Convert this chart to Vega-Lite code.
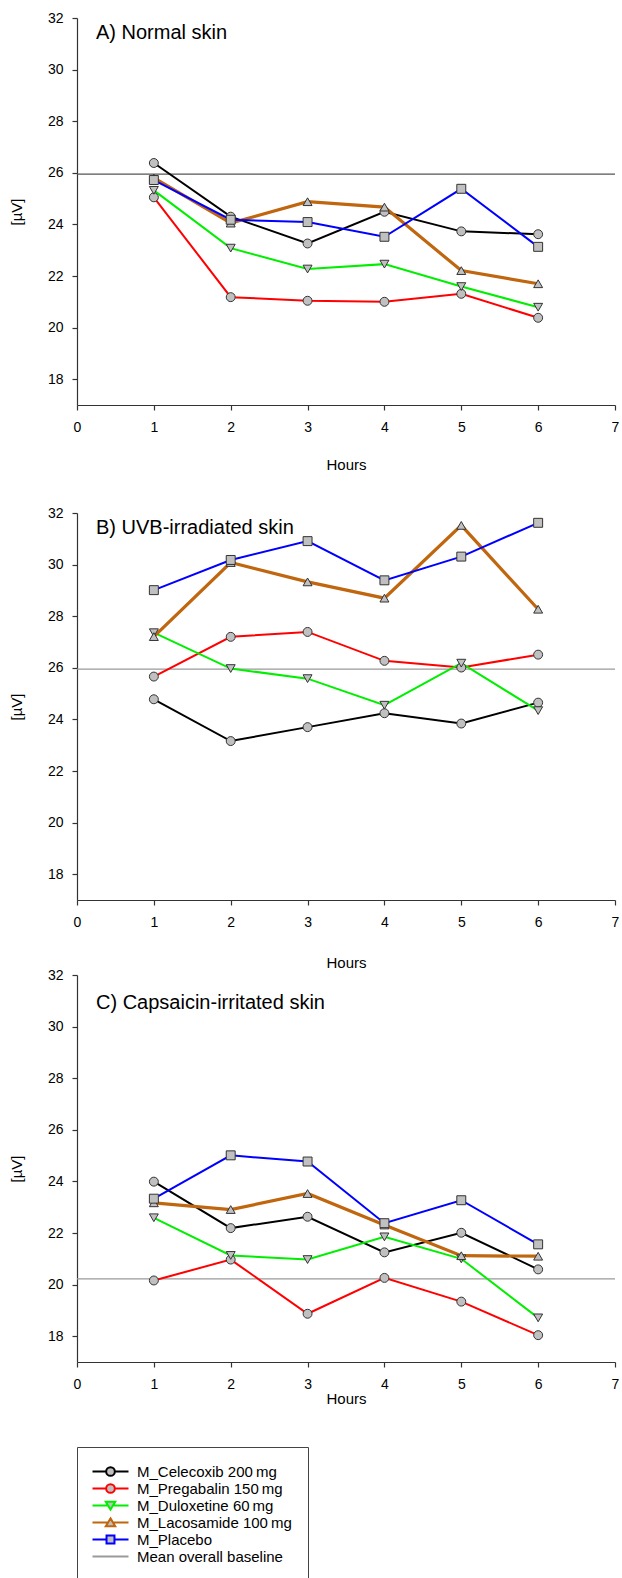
{
"$schema": "https://vega.github.io/schema/vega-lite/v6.json",
"padding": {"left": 9, "top": 11, "right": 5, "bottom": 5},
"spacing": -3,
"config": {
  "view": {"stroke": null},
  "font": "Liberation Sans",
  "axis": {"domainColor": "#333333", "tickColor": "#333333", "domainWidth": 1.2, "tickWidth": 1.2, "tickSize": 5, "labelFontSize": 14, "labelFont": "Liberation Sans", "labelColor": "#000000", "titleFontSize": 15, "titleFont": "Liberation Sans", "titleFontWeight": "normal", "titleColor": "#000000", "grid": false, "labelFlush": false, "labelOverlap": false, "labelBound": false}
},
"datasets": {
  "base": [
    {"panel": "A", "series": "Mean overall baseline", "value": 25.95},
    {"panel": "B", "series": "Mean overall baseline", "value": 25.95},
    {"panel": "C", "series": "Mean overall baseline", "value": 20.22}
  ],
  "pts": [
    {"panel": "A", "series": "M_Celecoxib 200\u2009mg", "hour": 1, "value": 26.38},
    {"panel": "A", "series": "M_Celecoxib 200\u2009mg", "hour": 2, "value": 24.3},
    {"panel": "A", "series": "M_Celecoxib 200\u2009mg", "hour": 3, "value": 23.26},
    {"panel": "A", "series": "M_Celecoxib 200\u2009mg", "hour": 4, "value": 24.49},
    {"panel": "A", "series": "M_Celecoxib 200\u2009mg", "hour": 5, "value": 23.73},
    {"panel": "A", "series": "M_Celecoxib 200\u2009mg", "hour": 6, "value": 23.62},
    {"panel": "A", "series": "M_Pregabalin 150\u2009mg", "hour": 1, "value": 25.05},
    {"panel": "A", "series": "M_Pregabalin 150\u2009mg", "hour": 2, "value": 21.18},
    {"panel": "A", "series": "M_Pregabalin 150\u2009mg", "hour": 3, "value": 21.04},
    {"panel": "A", "series": "M_Pregabalin 150\u2009mg", "hour": 4, "value": 21.0},
    {"panel": "A", "series": "M_Pregabalin 150\u2009mg", "hour": 5, "value": 21.31},
    {"panel": "A", "series": "M_Pregabalin 150\u2009mg", "hour": 6, "value": 20.38},
    {"panel": "A", "series": "M_Duloxetine 60\u2009mg", "hour": 1, "value": 25.32},
    {"panel": "A", "series": "M_Duloxetine 60\u2009mg", "hour": 2, "value": 23.08},
    {"panel": "A", "series": "M_Duloxetine 60\u2009mg", "hour": 3, "value": 22.27},
    {"panel": "A", "series": "M_Duloxetine 60\u2009mg", "hour": 4, "value": 22.46},
    {"panel": "A", "series": "M_Duloxetine 60\u2009mg", "hour": 5, "value": 21.59},
    {"panel": "A", "series": "M_Duloxetine 60\u2009mg", "hour": 6, "value": 20.79},
    {"panel": "A", "series": "M_Lacosamide 100\u2009mg", "hour": 1, "value": 25.8},
    {"panel": "A", "series": "M_Lacosamide 100\u2009mg", "hour": 2, "value": 24.05},
    {"panel": "A", "series": "M_Lacosamide 100\u2009mg", "hour": 3, "value": 24.88},
    {"panel": "A", "series": "M_Lacosamide 100\u2009mg", "hour": 4, "value": 24.67},
    {"panel": "A", "series": "M_Lacosamide 100\u2009mg", "hour": 5, "value": 22.21},
    {"panel": "A", "series": "M_Lacosamide 100\u2009mg", "hour": 6, "value": 21.7},
    {"panel": "A", "series": "M_Placebo", "hour": 1, "value": 25.72},
    {"panel": "A", "series": "M_Placebo", "hour": 2, "value": 24.18},
    {"panel": "A", "series": "M_Placebo", "hour": 3, "value": 24.09},
    {"panel": "A", "series": "M_Placebo", "hour": 4, "value": 23.52},
    {"panel": "A", "series": "M_Placebo", "hour": 5, "value": 25.38},
    {"panel": "A", "series": "M_Placebo", "hour": 6, "value": 23.13},
    {"panel": "B", "series": "M_Celecoxib 200\u2009mg", "hour": 1, "value": 24.78},
    {"panel": "B", "series": "M_Celecoxib 200\u2009mg", "hour": 2, "value": 23.16},
    {"panel": "B", "series": "M_Celecoxib 200\u2009mg", "hour": 3, "value": 23.7},
    {"panel": "B", "series": "M_Celecoxib 200\u2009mg", "hour": 4, "value": 24.24},
    {"panel": "B", "series": "M_Celecoxib 200\u2009mg", "hour": 5, "value": 23.84},
    {"panel": "B", "series": "M_Celecoxib 200\u2009mg", "hour": 6, "value": 24.65},
    {"panel": "B", "series": "M_Pregabalin 150\u2009mg", "hour": 1, "value": 25.66},
    {"panel": "B", "series": "M_Pregabalin 150\u2009mg", "hour": 2, "value": 27.2},
    {"panel": "B", "series": "M_Pregabalin 150\u2009mg", "hour": 3, "value": 27.39},
    {"panel": "B", "series": "M_Pregabalin 150\u2009mg", "hour": 4, "value": 26.27},
    {"panel": "B", "series": "M_Pregabalin 150\u2009mg", "hour": 5, "value": 26.01},
    {"panel": "B", "series": "M_Pregabalin 150\u2009mg", "hour": 6, "value": 26.51},
    {"panel": "B", "series": "M_Duloxetine 60\u2009mg", "hour": 1, "value": 27.36},
    {"panel": "B", "series": "M_Duloxetine 60\u2009mg", "hour": 2, "value": 25.97},
    {"panel": "B", "series": "M_Duloxetine 60\u2009mg", "hour": 3, "value": 25.58},
    {"panel": "B", "series": "M_Duloxetine 60\u2009mg", "hour": 4, "value": 24.55},
    {"panel": "B", "series": "M_Duloxetine 60\u2009mg", "hour": 5, "value": 26.18},
    {"panel": "B", "series": "M_Duloxetine 60\u2009mg", "hour": 6, "value": 24.34},
    {"panel": "B", "series": "M_Lacosamide 100\u2009mg", "hour": 1, "value": 27.21},
    {"panel": "B", "series": "M_Lacosamide 100\u2009mg", "hour": 2, "value": 30.08},
    {"panel": "B", "series": "M_Lacosamide 100\u2009mg", "hour": 3, "value": 29.33},
    {"panel": "B", "series": "M_Lacosamide 100\u2009mg", "hour": 4, "value": 28.7},
    {"panel": "B", "series": "M_Lacosamide 100\u2009mg", "hour": 5, "value": 31.52},
    {"panel": "B", "series": "M_Lacosamide 100\u2009mg", "hour": 6, "value": 28.27},
    {"panel": "B", "series": "M_Placebo", "hour": 1, "value": 29.01},
    {"panel": "B", "series": "M_Placebo", "hour": 2, "value": 30.18},
    {"panel": "B", "series": "M_Placebo", "hour": 3, "value": 30.91},
    {"panel": "B", "series": "M_Placebo", "hour": 4, "value": 29.39},
    {"panel": "B", "series": "M_Placebo", "hour": 5, "value": 30.31},
    {"panel": "B", "series": "M_Placebo", "hour": 6, "value": 31.62},
    {"panel": "C", "series": "M_Celecoxib 200\u2009mg", "hour": 1, "value": 23.99},
    {"panel": "C", "series": "M_Celecoxib 200\u2009mg", "hour": 2, "value": 22.19},
    {"panel": "C", "series": "M_Celecoxib 200\u2009mg", "hour": 3, "value": 22.63},
    {"panel": "C", "series": "M_Celecoxib 200\u2009mg", "hour": 4, "value": 21.25},
    {"panel": "C", "series": "M_Celecoxib 200\u2009mg", "hour": 5, "value": 22.01},
    {"panel": "C", "series": "M_Celecoxib 200\u2009mg", "hour": 6, "value": 20.59},
    {"panel": "C", "series": "M_Pregabalin 150\u2009mg", "hour": 1, "value": 20.16},
    {"panel": "C", "series": "M_Pregabalin 150\u2009mg", "hour": 2, "value": 20.97},
    {"panel": "C", "series": "M_Pregabalin 150\u2009mg", "hour": 3, "value": 18.87},
    {"panel": "C", "series": "M_Pregabalin 150\u2009mg", "hour": 4, "value": 20.26},
    {"panel": "C", "series": "M_Pregabalin 150\u2009mg", "hour": 5, "value": 19.34},
    {"panel": "C", "series": "M_Pregabalin 150\u2009mg", "hour": 6, "value": 18.04},
    {"panel": "C", "series": "M_Duloxetine 60\u2009mg", "hour": 1, "value": 22.59},
    {"panel": "C", "series": "M_Duloxetine 60\u2009mg", "hour": 2, "value": 21.13},
    {"panel": "C", "series": "M_Duloxetine 60\u2009mg", "hour": 3, "value": 20.97},
    {"panel": "C", "series": "M_Duloxetine 60\u2009mg", "hour": 4, "value": 21.85},
    {"panel": "C", "series": "M_Duloxetine 60\u2009mg", "hour": 5, "value": 21.0},
    {"panel": "C", "series": "M_Duloxetine 60\u2009mg", "hour": 6, "value": 18.71},
    {"panel": "C", "series": "M_Lacosamide 100\u2009mg", "hour": 1, "value": 23.17},
    {"panel": "C", "series": "M_Lacosamide 100\u2009mg", "hour": 2, "value": 22.91},
    {"panel": "C", "series": "M_Lacosamide 100\u2009mg", "hour": 3, "value": 23.53},
    {"panel": "C", "series": "M_Lacosamide 100\u2009mg", "hour": 4, "value": 22.31},
    {"panel": "C", "series": "M_Lacosamide 100\u2009mg", "hour": 5, "value": 21.12},
    {"panel": "C", "series": "M_Lacosamide 100\u2009mg", "hour": 6, "value": 21.1},
    {"panel": "C", "series": "M_Placebo", "hour": 1, "value": 23.33},
    {"panel": "C", "series": "M_Placebo", "hour": 2, "value": 25.01},
    {"panel": "C", "series": "M_Placebo", "hour": 3, "value": 24.77},
    {"panel": "C", "series": "M_Placebo", "hour": 4, "value": 22.38},
    {"panel": "C", "series": "M_Placebo", "hour": 5, "value": 23.27},
    {"panel": "C", "series": "M_Placebo", "hour": 6, "value": 21.56}
  ]
},
"vconcat": [
  {
    "width": 538, "height": 387,
    "title": {"text": "A) Normal skin", "anchor": "start", "frame": "group", "offset": -48, "dx": 19, "baseline": "alphabetic", "fontSize": 20, "fontWeight": "normal", "font": "Liberation Sans", "color": "#000000"},
    "layer": [
      {"data": {"name": "base"}, "transform": [{"filter": "datum.panel === 'A'"}],
       "mark": {"type": "rule", "strokeWidth": 1.2, "color": "#555555"},
       "encoding": {"y": {"field": "value", "type": "quantitative", "scale": {"domain": [17, 32], "nice": false, "zero": false}, "axis": {"values": [18,19,20,21,22,23,24,25,26,27,28,29,30,31,32], "labelExpr": "datum.value % 2 === 0 ? datum.label : ''", "title": "[µV]", "titlePadding": 23, "labelPadding": 9}}}},
      {"data": {"name": "pts"}, "transform": [{"filter": "datum.panel === 'A'"}],
       "mark": {"type": "line"},
       "encoding": {
         "x": {"field": "hour", "type": "quantitative", "scale": {"domain": [0, 7], "nice": false, "zero": false}, "axis": {"values": [0,1,2,3,4,5,6,7], "format": "d", "title": ["Hours", " ", " "], "titleLineHeight": 18.3, "titlePadding": 23, "labelPadding": 10}},
         "y": {"field": "value", "type": "quantitative", "scale": {"domain": [17, 32], "nice": false, "zero": false}, "axis": {"values": [18,19,20,21,22,23,24,25,26,27,28,29,30,31,32], "labelExpr": "datum.value % 2 === 0 ? datum.label : ''", "title": "[µV]", "titlePadding": 23, "labelPadding": 9}},
         "color": {"field": "series", "type": "nominal", "scale": {"domain": ["M_Celecoxib 200\u2009mg", "M_Pregabalin 150\u2009mg", "M_Duloxetine 60\u2009mg", "M_Lacosamide 100\u2009mg", "M_Placebo"], "range": ["#000000", "#ff0000", "#00ee00", "#c0660e", "#0000ff"]}, "legend": null},
         "strokeWidth": {"condition": {"test": "indexof(datum.series,'Lacosamide')>=0", "value": 3.2}, "value": 2}
       }},
      {"data": {"name": "pts"}, "transform": [{"filter": "datum.panel === 'A'"}],
       "mark": {"type": "point", "filled": true, "fill": "#c0c0c0", "stroke": "#333333", "strokeWidth": 1, "opacity": 1, "size": 80,
                "shape": {"expr": "indexof(datum.series,'Placebo')>=0 ? 'square' : indexof(datum.series,'Duloxetine')>=0 ? 'triangle-down' : indexof(datum.series,'Lacosamide')>=0 ? 'triangle-up' : 'circle'"}},
       "encoding": {
         "x": {"field": "hour", "type": "quantitative"},
         "y": {"field": "value", "type": "quantitative"}
       }},
      {"data": {"name": "pts"}, "transform": [{"filter": "datum.panel === 'legend-only'"}],
       "mark": {"type": "point", "filled": true, "fill": "#c0c0c0", "strokeWidth": 2, "opacity": 1, "size": 225},
       "encoding": {
         "x": {"field": "hour", "type": "quantitative"},
         "y": {"field": "value", "type": "quantitative"},
         "stroke": {"field": "series", "type": "nominal",
           "scale": {"domain": ["M_Celecoxib 200\u2009mg", "M_Pregabalin 150\u2009mg", "M_Duloxetine 60\u2009mg", "M_Lacosamide 100\u2009mg", "M_Placebo", "Mean overall baseline"], "range": ["#000000", "#ff0000", "#00ee00", "#c0660e", "#0000ff", "#9a9a9a"]},
           "legend": {"title": null, "orient": "none", "legendX": 0, "legendY": 1429, "padding": 16, "strokeColor": "#444444", "fillColor": "#ffffff", "labelFontSize": 15, "labelFont": "Liberation Sans", "labelColor": "#000000", "symbolSize": 225, "symbolStrokeWidth": 2, "labelOffset": 18, "symbolOffset": 9, "rowPadding": -4, "labelLimit": 400}},
         "shape": {"field": "series", "type": "nominal",
           "scale": {"domain": ["M_Celecoxib 200\u2009mg", "M_Pregabalin 150\u2009mg", "M_Duloxetine 60\u2009mg", "M_Lacosamide 100\u2009mg", "M_Placebo", "Mean overall baseline"],
             "range": ["M-2.4,0H-0.58M0.58,0H2.4M-0.58,0A0.58,0.58 0 1,0 0.58,0A0.58,0.58 0 1,0 -0.58,0Z", "M-2.4,0H-0.58M0.58,0H2.4M-0.58,0A0.58,0.58 0 1,0 0.58,0A0.58,0.58 0 1,0 -0.58,0Z", "M-2.4,0H-0.33M0.33,0H2.4M-0.63,-0.5H0.63L0,0.55Z", "M-2.4,0H-0.33M0.33,0H2.4M0,-0.55L0.63,0.5H-0.63Z", "M-2.4,0H-0.53M0.53,0H2.4M-0.53,-0.53H0.53V0.53H-0.53Z", "M-2.4,0H2.4"]},
           "legend": {"title": null, "orient": "none", "legendX": 0, "legendY": 1429, "padding": 16, "strokeColor": "#444444", "fillColor": "#ffffff", "labelFontSize": 15, "labelFont": "Liberation Sans", "labelColor": "#000000", "symbolSize": 225, "symbolStrokeWidth": 2, "labelOffset": 18, "symbolOffset": 9, "rowPadding": -4, "labelLimit": 400}}
       }}
    ]
  },
  {
    "width": 538, "height": 387,
    "title": {"text": "B) UVB-irradiated skin", "anchor": "start", "frame": "group", "offset": -48, "dx": 19, "baseline": "alphabetic", "fontSize": 20, "fontWeight": "normal", "font": "Liberation Sans", "color": "#000000"},
    "layer": [
      {"data": {"name": "base"}, "transform": [{"filter": "datum.panel === 'B'"}],
       "mark": {"type": "rule", "strokeWidth": 1.2, "color": "#9a9a9a"},
       "encoding": {
         "y": {"field": "value", "type": "quantitative", "scale": {"domain": [17, 32], "nice": false, "zero": false}, "axis": {"values": [18,19,20,21,22,23,24,25,26,27,28,29,30,31,32], "labelExpr": "datum.value % 2 === 0 ? datum.label : ''", "title": "[µV]", "titlePadding": 23, "labelPadding": 9}}
       }},
      {"data": {"name": "pts"}, "transform": [{"filter": "datum.panel === 'B'"}],
       "mark": {"type": "line"},
       "encoding": {
         "x": {"field": "hour", "type": "quantitative", "scale": {"domain": [0, 7], "nice": false, "zero": false}, "axis": {"values": [0,1,2,3,4,5,6,7], "format": "d", "title": "Hours", "titlePadding": 26.5, "labelPadding": 10}},
         "y": {"field": "value", "type": "quantitative", "scale": {"domain": [17, 32], "nice": false, "zero": false}, "axis": {"values": [18,19,20,21,22,23,24,25,26,27,28,29,30,31,32], "labelExpr": "datum.value % 2 === 0 ? datum.label : ''", "title": "[µV]", "titlePadding": 23, "labelPadding": 9}},
         "color": {"field": "series", "type": "nominal", "scale": {"domain": ["M_Celecoxib 200\u2009mg", "M_Pregabalin 150\u2009mg", "M_Duloxetine 60\u2009mg", "M_Lacosamide 100\u2009mg", "M_Placebo"], "range": ["#000000", "#ff0000", "#00ee00", "#c0660e", "#0000ff"]}, "legend": null},
         "strokeWidth": {"condition": {"test": "indexof(datum.series,'Lacosamide')>=0", "value": 3.2}, "value": 2}
       }},
      {"data": {"name": "pts"}, "transform": [{"filter": "datum.panel === 'B'"}],
       "mark": {"type": "point", "filled": true, "fill": "#c0c0c0", "stroke": "#333333", "strokeWidth": 1, "opacity": 1, "size": 80,
                "shape": {"expr": "indexof(datum.series,'Placebo')>=0 ? 'square' : indexof(datum.series,'Duloxetine')>=0 ? 'triangle-down' : indexof(datum.series,'Lacosamide')>=0 ? 'triangle-up' : 'circle'"}},
       "encoding": {
         "x": {"field": "hour", "type": "quantitative"},
         "y": {"field": "value", "type": "quantitative"}
       }}
    ]
  },
  {
    "width": 538, "height": 387,
    "title": {"text": "C) Capsaicin-irritated skin", "anchor": "start", "frame": "group", "offset": -61, "dx": 19, "baseline": "alphabetic", "fontSize": 20, "fontWeight": "normal", "font": "Liberation Sans", "color": "#000000"},
    "layer": [
      {"data": {"name": "base"}, "transform": [{"filter": "datum.panel === 'C'"}],
       "mark": {"type": "rule", "strokeWidth": 1.2, "color": "#9a9a9a"},
       "encoding": {
         "y": {"field": "value", "type": "quantitative", "scale": {"domain": [17, 32], "nice": false, "zero": false}, "axis": {"values": [18,19,20,21,22,23,24,25,26,27,28,29,30,31,32], "labelExpr": "datum.value % 2 === 0 ? datum.label : ''", "title": "[µV]", "titlePadding": 23, "labelPadding": 9}}
       }},
      {"data": {"name": "pts"}, "transform": [{"filter": "datum.panel === 'C'"}],
       "mark": {"type": "line"},
       "encoding": {
         "x": {"field": "hour", "type": "quantitative", "scale": {"domain": [0, 7], "nice": false, "zero": false}, "axis": {"values": [0,1,2,3,4,5,6,7], "format": "d", "title": "Hours", "titlePadding": 0, "labelPadding": 10}},
         "y": {"field": "value", "type": "quantitative", "scale": {"domain": [17, 32], "nice": false, "zero": false}, "axis": {"values": [18,19,20,21,22,23,24,25,26,27,28,29,30,31,32], "labelExpr": "datum.value % 2 === 0 ? datum.label : ''", "title": "[µV]", "titlePadding": 23, "labelPadding": 9}},
         "color": {"field": "series", "type": "nominal", "scale": {"domain": ["M_Celecoxib 200\u2009mg", "M_Pregabalin 150\u2009mg", "M_Duloxetine 60\u2009mg", "M_Lacosamide 100\u2009mg", "M_Placebo"], "range": ["#000000", "#ff0000", "#00ee00", "#c0660e", "#0000ff"]}, "legend": null},
         "strokeWidth": {"condition": {"test": "indexof(datum.series,'Lacosamide')>=0", "value": 3.2}, "value": 2}
       }},
      {"data": {"name": "pts"}, "transform": [{"filter": "datum.panel === 'C'"}],
       "mark": {"type": "point", "filled": true, "fill": "#c0c0c0", "stroke": "#333333", "strokeWidth": 1, "opacity": 1, "size": 80,
                "shape": {"expr": "indexof(datum.series,'Placebo')>=0 ? 'square' : indexof(datum.series,'Duloxetine')>=0 ? 'triangle-down' : indexof(datum.series,'Lacosamide')>=0 ? 'triangle-up' : 'circle'"}},
       "encoding": {
         "x": {"field": "hour", "type": "quantitative"},
         "y": {"field": "value", "type": "quantitative"}
       }}
    ]
  }
]
}
